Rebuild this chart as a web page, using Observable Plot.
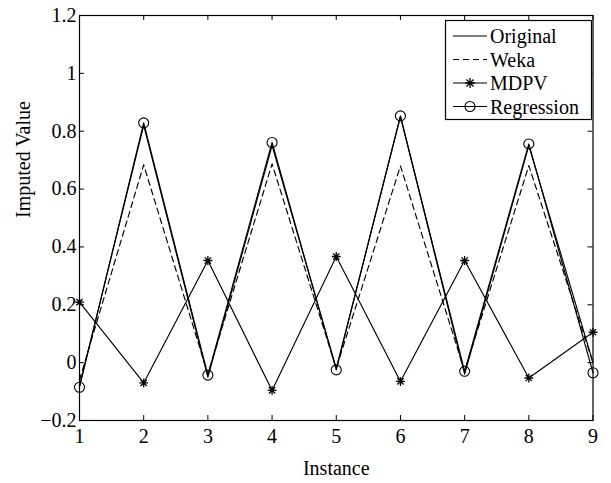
<!DOCTYPE html>
<html>
<head>
<meta charset="utf-8">
<script src="https://cdn.jsdelivr.net/npm/d3@7"></script>
<script src="https://cdn.jsdelivr.net/npm/@observablehq/plot@0.6"></script>
<style>
  html, body { margin: 0; padding: 0; background: #fff; }
  #chart svg { display: block; }
</style>
</head>
<body>
<div id="chart"></div>
<script>
// Instances and imputed values for each method
const instances = [1, 2, 3, 4, 5, 6, 7, 8, 9];
const original   = [-0.08, 0.82, -0.05, 0.75, -0.02, 0.85, -0.04, 0.75, 0.00];
const weka       = [-0.06, 0.684, -0.04, 0.687, -0.02, 0.68, -0.03, 0.681, 0.00];
const mdpv       = [0.209, -0.070, 0.353, -0.096, 0.367, -0.065, 0.353, -0.053, 0.105];
const regression = [-0.085, 0.829, -0.043, 0.761, -0.025, 0.853, -0.030, 0.756, -0.035];

const xTicks = [1, 2, 3, 4, 5, 6, 7, 8, 9];
const yTicks = [-0.2, 0, 0.2, 0.4, 0.6, 0.8, 1, 1.2];
const yTickLabels = ["\u22120.2", "0", "0.2", "0.4", "0.6", "0.8", "1", "1.2"];

const series = [
  {name: "Original", values: original},
  {name: "Weka", values: weka},
  {name: "MDPV", values: mdpv},
  {name: "Regression", values: regression}
];
const rows = series.flatMap(s => s.values.map((v, i) => ({series: s.name, x: instances[i], y: v})));
const of = name => rows.filter(d => d.series === name);

// Eight-armed star (plus + cross), like a classic "*" plot marker
const star8 = {
  draw(ctx, size) {
    const r = Math.sqrt(size) / 2;
    const d = r * Math.SQRT1_2;
    ctx.moveTo(0, -r); ctx.lineTo(0, r);
    ctx.moveTo(-r, 0); ctx.lineTo(r, 0);
    ctx.moveTo(-d, -d); ctx.lineTo(d, d);
    ctx.moveTo(-d, d); ctx.lineTo(d, -d);
  }
};

const W = 611, H = 483;
const mL = 79, mR = 18.5, mT = 15, mB = 63;
const innerW = W - mL - mR, innerH = H - mT - mB;
const tick = 5;
const lw = 1.15;
const serif = "'Liberation Serif', 'Times New Roman', serif";
const fs = 20;

const plot = Plot.plot({
  width: W,
  height: H,
  marginLeft: mL,
  marginRight: mR,
  marginTop: mT,
  marginBottom: mB,
  style: {fontFamily: serif, fontSize: fs + "px", color: "#000", background: "#fff"},
  x: {domain: [1, 9]},
  y: {domain: [-0.2, 1.2]},
  marks: [
    // inward ticks on all four sides
    Plot.tickX(xTicks, {x: d => d, insetTop: innerH - tick, stroke: "#000", strokeWidth: 1}),
    Plot.tickX(xTicks, {x: d => d, insetBottom: innerH - tick, stroke: "#000", strokeWidth: 1}),
    Plot.tickY(yTicks, {y: d => d, insetRight: innerW - tick, stroke: "#000", strokeWidth: 1}),
    Plot.tickY(yTicks, {y: d => d, insetLeft: innerW - tick, stroke: "#000", strokeWidth: 1}),
    Plot.axisX({ticks: xTicks, tickSize: 0, tickPadding: 8, fontSize: fs, label: null, tickFormat: d => String(d)}),
    Plot.axisY({ticks: yTicks, tickSize: 0, tickPadding: 3, fontSize: fs, label: null,
      tickFormat: d => yTickLabels[yTicks.findIndex(t => Math.abs(t - d) < 1e-9)]}),
    Plot.line(of("Original"), {x: "x", y: "y", stroke: "#000", strokeWidth: lw}),
    Plot.line(of("Weka"), {x: "x", y: "y", stroke: "#000", strokeWidth: lw, strokeDasharray: "6,4"}),
    Plot.line(of("MDPV"), {x: "x", y: "y", stroke: "#000", strokeWidth: lw}),
    Plot.dot(of("MDPV"), {x: "x", y: "y", symbol: star8, r: 5, stroke: "#000", strokeWidth: 1.3}),
    Plot.line(of("Regression"), {x: "x", y: "y", stroke: "#000", strokeWidth: lw}),
    Plot.dot(of("Regression"), {x: "x", y: "y", symbol: "circle", r: 5, stroke: "#000", fill: "none", strokeWidth: 1.1}),
    Plot.frame({stroke: "#000", strokeWidth: 1.2}),
    Plot.text(["Instance"], {frameAnchor: "bottom", dy: 48, fontSize: fs, lineAnchor: "middle"}),
    Plot.text(["Imputed Value"], {frameAnchor: "left", dx: -56, rotate: -90, fontSize: fs})
  ]
});

document.getElementById("chart").appendChild(plot);

// Legend box in the upper right corner of the axes
const svg = d3.select(plot);
const lg = svg.append("g")
  .attr("font-family", serif)
  .attr("font-size", fs)
  .attr("text-anchor", "start");
const lx = 445.5, ly = 20.5, lwBox = 146, lhBox = 99;
lg.append("rect").attr("x", lx).attr("y", ly).attr("width", lwBox).attr("height", lhBox)
  .attr("fill", "#fff").attr("stroke", "#000").attr("stroke-width", 1.2);
const rowY = [36, 59.5, 83, 106.5];
const x0 = 453, x1 = 487, xm = (x0 + x1) / 2, xt = 490;
series.forEach((s, i) => {
  const y = rowY[i];
  lg.append("line").attr("x1", x0).attr("x2", x1).attr("y1", y).attr("y2", y)
    .attr("stroke", "#000").attr("stroke-width", lw)
    .attr("stroke-dasharray", s.name === "Weka" ? "6,4" : null);
  if (s.name === "MDPV") {
    const p = d3.path(); star8.draw(p, 100);
    lg.append("path").attr("d", p.toString()).attr("transform", `translate(${xm},${y})`)
      .attr("stroke", "#000").attr("stroke-width", 1.3).attr("fill", "none");
  }
  if (s.name === "Regression") {
    lg.append("circle").attr("cx", xm).attr("cy", y).attr("r", 5)
      .attr("stroke", "#000").attr("fill", "none").attr("stroke-width", 1.1);
  }
  lg.append("text").attr("x", xt).attr("y", y).attr("dy", "0.35em")
    .attr("fill", "#000").attr("text-anchor", "start").text(s.name);
});
</script>
</body>
</html>
